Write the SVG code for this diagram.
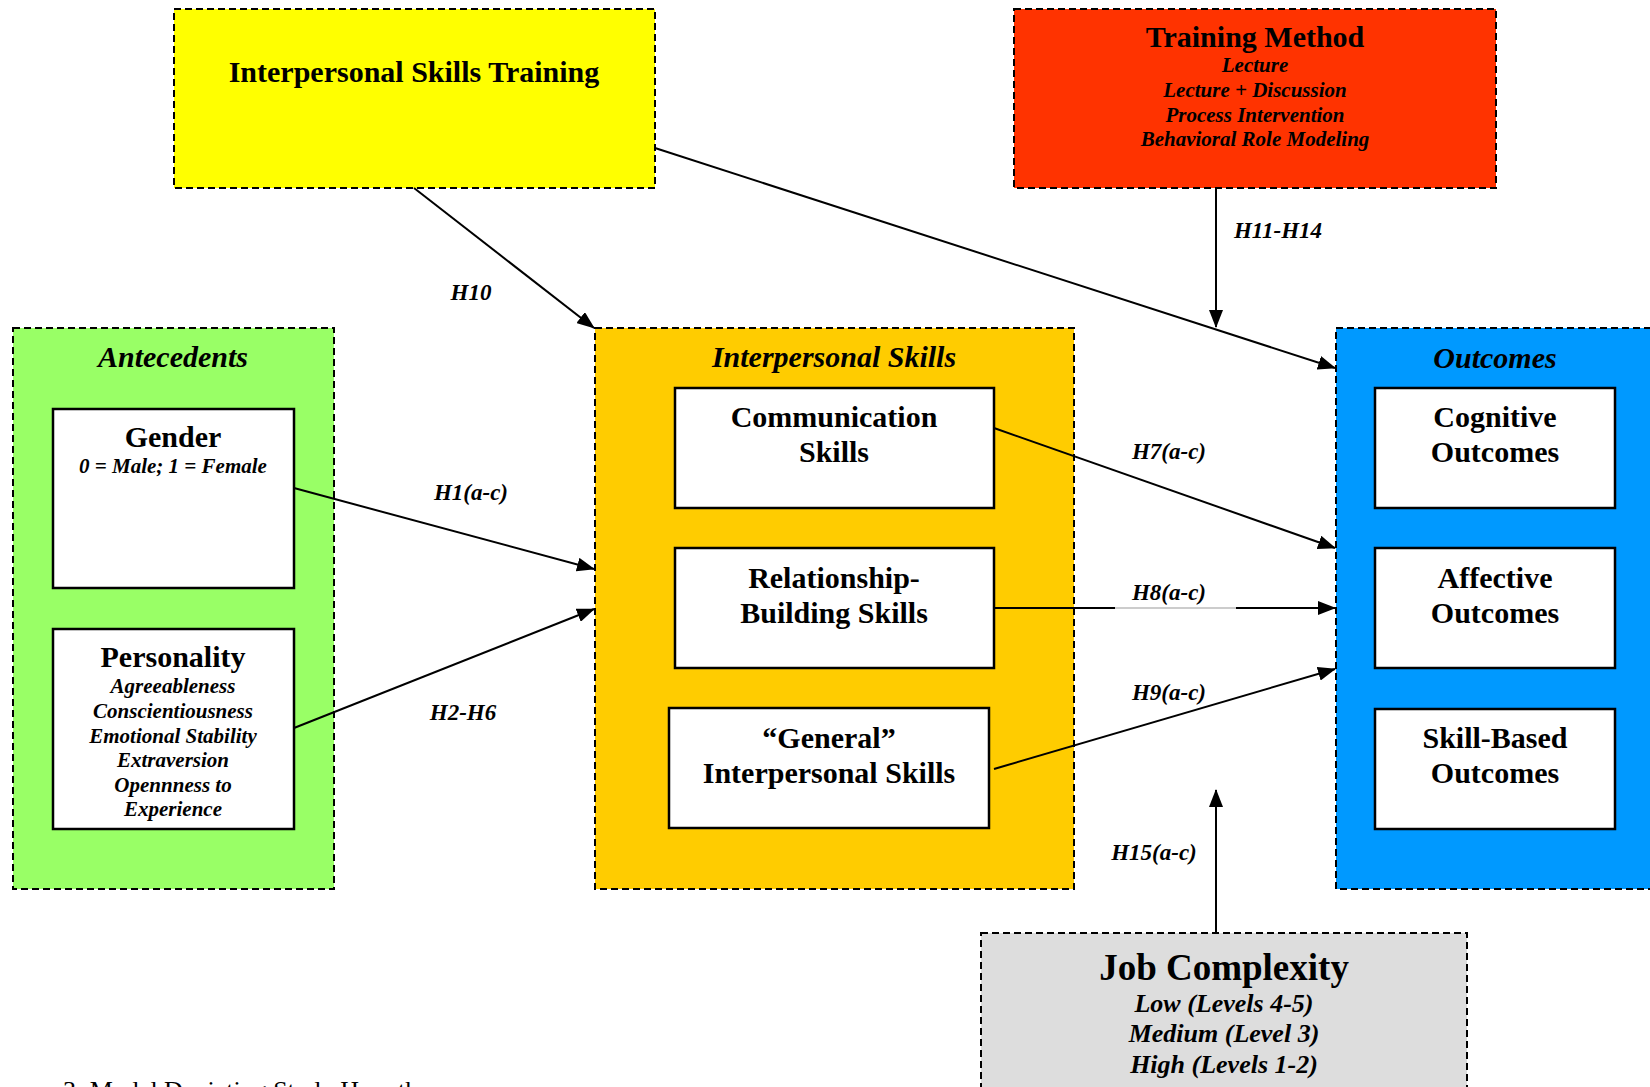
<svg xmlns="http://www.w3.org/2000/svg" width="1650" height="1087" viewBox="0 0 1650 1087">
<style>
text{font-family:"Liberation Serif","Times New Roman",serif;font-weight:bold;text-anchor:middle;fill:#000}
.it{font-style:italic}
.grp{stroke:#000;stroke-width:2;stroke-dasharray:7,4}
.box{fill:#fff;stroke:#000;stroke-width:2.5}
.t30{font-size:30px}
.t20{font-size:21px}
.lbl{font-size:23px;font-style:italic}
.con{stroke:#000;stroke-width:2;fill:none}
</style>
<defs>
<marker id="ah" markerUnits="userSpaceOnUse" markerWidth="18" markerHeight="14" refX="17" refY="7" orient="auto">
<path d="M0,0 L18,7 L0,14 z" fill="#000"/>
</marker>
</defs>
<rect width="1650" height="1087" fill="#fff"/>

<g id="ist">
<rect class="grp" x="174" y="9" width="481" height="179" fill="#FFFF00"/>
<text class="t30" x="414" y="82">Interpersonal Skills Training</text>
</g>

<g id="training-method">
<rect class="grp" x="1014" y="9" width="482" height="179" fill="#FF3300"/>
<text class="t30" x="1255" y="47">Training Method</text>
<text class="t20 it" x="1255" y="72">Lecture</text>
<text class="t20 it" x="1255" y="97">Lecture + Discussion</text>
<text class="t20 it" x="1255" y="122">Process Intervention</text>
<text class="t20 it" x="1255" y="146">Behavioral Role Modeling</text>
</g>

<g id="antecedents">
<rect class="grp" x="13" y="328" width="321" height="561" fill="#99FF66"/>
<text class="t30 it" x="173" y="367">Antecedents</text>
</g>
<g id="gender">
<rect class="box" x="53" y="409" width="241" height="179"/>
<text class="t30" x="173" y="447">Gender</text>
<text class="t20 it" x="173" y="473">0 = Male; 1 = Female</text>
</g>
<g id="personality">
<rect class="box" x="53" y="629" width="241" height="200"/>
<text class="t30" x="173" y="667">Personality</text>
<text class="t20 it" x="173" y="693">Agreeableness</text>
<text class="t20 it" x="173" y="718">Conscientiousness</text>
<text class="t20 it" x="173" y="743">Emotional Stability</text>
<text class="t20 it" x="173" y="767">Extraversion</text>
<text class="t20 it" x="173" y="792">Opennness to</text>
<text class="t20 it" x="173" y="816">Experience</text>
</g>

<g id="interpersonal-skills">
<rect class="grp" x="595" y="328" width="479" height="561" fill="#FFCC00"/>
<text class="t30 it" x="834" y="367">Interpersonal Skills</text>
</g>
<g id="communication">
<rect class="box" x="675" y="388" width="319" height="120"/>
<text class="t30" x="834" y="427">Communication</text>
<text class="t30" x="834" y="462">Skills</text>
</g>
<g id="relationship">
<rect class="box" x="675" y="548" width="319" height="120"/>
<text class="t30" x="834" y="588">Relationship-</text>
<text class="t30" x="834" y="623">Building Skills</text>
</g>
<g id="general">
<rect class="box" x="669" y="708" width="320" height="120"/>
<text class="t30" x="829" y="748">“General”</text>
<text class="t30" x="829" y="783">Interpersonal Skills</text>
</g>

<g id="outcomes">
<rect class="grp" x="1336" y="328" width="330" height="561" fill="#0099FF"/>
<text class="t30 it" x="1495" y="368">Outcomes</text>
</g>
<g id="cognitive">
<rect class="box" x="1375" y="388" width="240" height="120"/>
<text class="t30" x="1495" y="427">Cognitive</text>
<text class="t30" x="1495" y="462">Outcomes</text>
</g>
<g id="affective">
<rect class="box" x="1375" y="548" width="240" height="120"/>
<text class="t30" x="1495" y="588">Affective</text>
<text class="t30" x="1495" y="623">Outcomes</text>
</g>
<g id="skill-based">
<rect class="box" x="1375" y="709" width="240" height="120"/>
<text class="t30" x="1495" y="748">Skill-Based</text>
<text class="t30" x="1495" y="783">Outcomes</text>
</g>

<g id="job-complexity">
<rect class="grp" x="981" y="933" width="486" height="170" fill="#DDDDDD"/>
<text x="1224" y="980" style="font-size:37px">Job Complexity</text>
<text class="it" x="1224" y="1012" style="font-size:26px">Low (Levels 4-5)</text>
<text class="it" x="1224" y="1042" style="font-size:26px">Medium (Level 3)</text>
<text class="it" x="1224" y="1073" style="font-size:26px">High (Levels 1-2)</text>
</g>

<g id="connectors">
<line class="con" x1="414" y1="188" x2="594" y2="328" marker-end="url(#ah)"/>
<line class="con" x1="655" y1="148" x2="1335" y2="368" marker-end="url(#ah)"/>
<line class="con" x1="1216" y1="188" x2="1216" y2="327" marker-end="url(#ah)"/>
<line class="con" x1="294" y1="488" x2="594" y2="569" marker-end="url(#ah)"/>
<line class="con" x1="294" y1="728" x2="594" y2="609" marker-end="url(#ah)"/>
<line class="con" x1="994" y1="428" x2="1335" y2="548" marker-end="url(#ah)"/>
<line class="con" x1="994" y1="608" x2="1115" y2="608"/>
<line x1="1115" y1="608" x2="1236" y2="608" stroke="#999" stroke-width="1"/>
<line class="con" x1="1236" y1="608" x2="1335" y2="608" marker-end="url(#ah)"/>
<line class="con" x1="994" y1="769" x2="1335" y2="669" marker-end="url(#ah)"/>
<line class="con" x1="1216" y1="933" x2="1216" y2="790" marker-end="url(#ah)"/>
<text class="lbl" x="471" y="300">H10</text>
<text class="lbl" x="1278" y="238">H11-H14</text>
<text class="lbl" x="471" y="500">H1(a-c)</text>
<text class="lbl" x="463" y="720">H2-H6</text>
<text class="lbl" x="1169" y="459">H7(a-c)</text>
<text class="lbl" x="1169" y="600">H8(a-c)</text>
<text class="lbl" x="1169" y="700">H9(a-c)</text>
<text class="lbl" x="1154" y="860">H15(a-c)</text>
</g>

<text x="63" y="1099" style="font-size:26px;font-weight:normal;text-anchor:start">3: Model Depicting Study Hypotheses</text>
</svg>
